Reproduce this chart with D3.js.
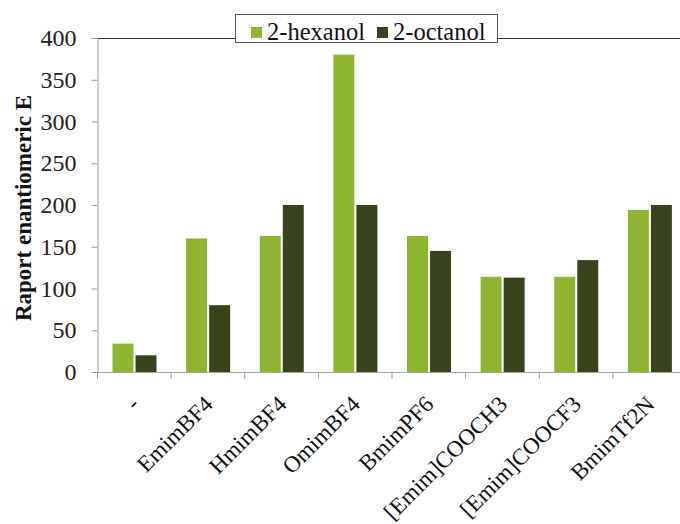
<!DOCTYPE html>
<html>
<head>
<meta charset="utf-8">
<script src="https://cdn.jsdelivr.net/npm/d3@7"></script>
<style>
  html, body { margin: 0; padding: 0; background: #fff; }
  svg { display: block; }
</style>
</head>
<body>
<svg id="chart" width="680" height="524"></svg>
<script>
// Ionic liquids tested as reaction media
const categories = ["-", "EmimBF4", "HmimBF4", "OmimBF4", "BmimPF6", "[Emim]COOCH3", "[Emim]COOCF3", "BmimTf2N"];
const seriesNames = ["2-hexanol", "2-octanol"];
const hexanol = [34, 160, 163, 380, 163, 114, 114, 194];
const octanol = [20, 80, 200, 200, 145, 113, 134, 200];
const yTicks = [0, 50, 100, 150, 200, 250, 300, 350, 400];
const colors = ["#8DB52F", "#37441B"];
const yTitle = "Raport enantiomeric E";

const serif = "'Liberation Serif', 'Times New Roman', serif";
const svg = d3.select("#chart");
const plotLeft = 97, plotRight = 686, plotTop = 38, plotBottom = 372;

const x0 = d3.scaleBand().domain(categories).range([plotLeft, plotRight]).padding(0);
const x1 = d3.scaleBand().domain(seriesNames).range([15.5, 59.5]).paddingInner(0.09);
const y = d3.scaleLinear().domain([0, 400]).range([plotBottom, plotTop]);

const rows = categories.map((c, i) => ({ cat: c, vals: [hexanol[i], octanol[i]] }));

// bars
const groups = svg.append("g").selectAll("g").data(rows).join("g")
  .attr("transform", d => `translate(${x0(d.cat)},0)`);
groups.selectAll("rect")
  .data(d => d.vals.map((v, k) => ({ name: seriesNames[k], v, k })))
  .join("rect")
  .attr("x", d => x1(d.name))
  .attr("width", x1.bandwidth())
  .attr("y", d => y(d.v))
  .attr("height", d => y(0) - y(d.v))
  .attr("fill", d => colors[d.k]);

// top frame line
svg.append("line")
  .attr("x1", plotLeft).attr("x2", plotRight).attr("y1", y(400) + 0.5).attr("y2", y(400) + 0.5)
  .attr("stroke", "#333").attr("stroke-width", 1.2);

// y axis
const yAxis = svg.append("g").attr("transform", `translate(${plotLeft + 0.5},0)`)
  .call(d3.axisLeft(y).tickValues(yTicks).tickSize(6).tickPadding(15).tickFormat(d3.format("d")));
yAxis.select(".domain").attr("stroke", "#999");
yAxis.selectAll(".tick line").attr("stroke", "#999");
yAxis.selectAll(".tick text")
  .style("font-family", serif).style("font-size", "24px").attr("fill", "#222");

// x axis baseline with ticks at category boundaries
const xAxis = svg.append("g");
xAxis.append("line")
  .attr("x1", plotLeft).attr("x2", plotRight).attr("y1", plotBottom + 0.5).attr("y2", plotBottom + 0.5)
  .attr("stroke", "#aaa");
xAxis.selectAll("line.tk").data(categories).join("line").attr("class", "tk")
  .attr("x1", d => x0(d) + 0.5).attr("x2", d => x0(d) + 0.5)
  .attr("y1", plotBottom).attr("y2", plotBottom + 7)
  .attr("stroke", "#999");
xAxis.selectAll("text").data(categories).join("text")
  .attr("transform", d => `translate(${x0(d) + x0.bandwidth() / 2 + 1},${plotBottom + 28}) rotate(-45)`)
  .attr("text-anchor", "end")
  .attr("dy", "0.35em")
  .style("font-family", serif).style("font-size", "23px")
  .attr("fill", "#111")
  .text(d => d);

// y title
svg.append("text")
  .attr("transform", `translate(31,208) rotate(-90)`)
  .attr("text-anchor", "middle")
  .style("font-family", serif).style("font-size", "23px").style("font-weight", "bold")
  .attr("fill", "#111")
  .text(yTitle);

// legend
const lg = svg.append("g");
lg.append("rect").attr("x", 235.5).attr("y", 14.5).attr("width", 262).attr("height", 28)
  .attr("fill", "#fff").attr("stroke", "#555");
const lgX = [251, 377];
seriesNames.forEach((n, k) => {
  lg.append("rect").attr("x", lgX[k]).attr("y", 27).attr("width", 11).attr("height", 11).attr("fill", colors[k]);
  lg.append("text").attr("x", lgX[k] + 16).attr("y", 40)
    .style("font-family", serif).style("font-size", "24.5px")
    .attr("fill", "#111").text(n);
});
</script>
</body>
</html>
